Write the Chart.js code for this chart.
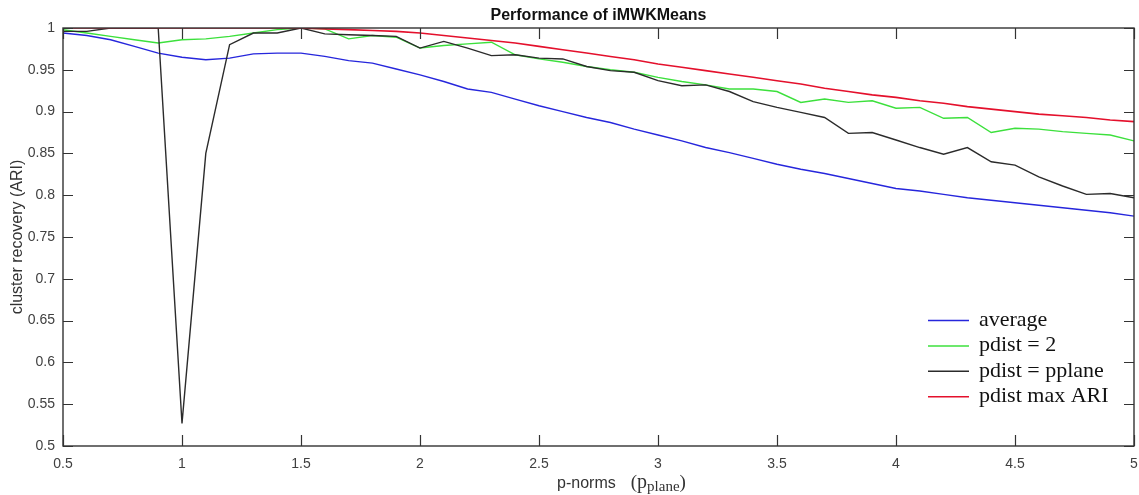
<!DOCTYPE html>
<html>
<head>
<meta charset="utf-8">
<script src="https://cdn.jsdelivr.net/npm/chart.js@4/dist/chart.umd.min.js"></script>
<style>
  html, body { margin: 0; padding: 0; background: #fff; }
  #wrap { width: 1139px; height: 495px; }
</style>
</head>
<body>
<div id="wrap"><canvas id="perfChart"></canvas></div>
<script>
// p-norm values along the x axis
const pNorms = [0.5, 0.6, 0.7, 0.8, 0.9, 1.0, 1.1, 1.2, 1.3, 1.4,
                1.5, 1.6, 1.7, 1.8, 1.9, 2.0, 2.1, 2.2, 2.3, 2.4,
                2.5, 2.6, 2.7, 2.8, 2.9, 3.0, 3.1, 3.2, 3.3, 3.4,
                3.5, 3.6, 3.7, 3.8, 3.9, 4.0, 4.1, 4.2, 4.3, 4.4,
                4.5, 4.6, 4.7, 4.8, 4.9, 5.0];

const average = [0.994, 0.991, 0.986, 0.978, 0.970, 0.965, 0.962, 0.964, 0.969, 0.970,
                 0.970, 0.966, 0.961, 0.958, 0.951, 0.944, 0.936, 0.927, 0.923, 0.915,
                 0.907, 0.900, 0.893, 0.887, 0.879, 0.872, 0.865, 0.857, 0.851, 0.844,
                 0.837, 0.831, 0.826, 0.820, 0.814, 0.808, 0.805, 0.801, 0.797, 0.794,
                 0.791, 0.788, 0.785, 0.782, 0.779, 0.775];

const pdist2 = [0.998, 0.994, 0.990, 0.986, 0.982, 0.986, 0.987, 0.990, 0.994, 0.998,
                1.000, 0.999, 0.987, 0.991, 0.989, 0.976, 0.979, 0.981, 0.983, 0.968,
                0.963, 0.959, 0.954, 0.950, 0.947, 0.941, 0.936, 0.932, 0.927, 0.927,
                0.924, 0.911, 0.915, 0.911, 0.913, 0.904, 0.905, 0.892, 0.893, 0.875,
                0.880, 0.879, 0.876, 0.874, 0.872, 0.865];

const pdistPlane = [0.996, 0.996, 1.000, 1.000, 1.000, 0.527, 0.850, 0.980, 0.994, 0.994,
                    1.000, 0.993, 0.992, 0.991, 0.990, 0.976, 0.984, 0.976, 0.967, 0.968,
                    0.964, 0.963, 0.954, 0.949, 0.947, 0.937, 0.931, 0.932, 0.924, 0.912,
                    0.905, 0.899, 0.893, 0.874, 0.875, 0.866, 0.857, 0.849, 0.857, 0.840,
                    0.836, 0.822, 0.811, 0.801, 0.802, 0.797];

const pdistMax = [1.000, 1.000, 1.000, 1.000, 1.000, 1.000, 1.000, 1.000, 1.000, 1.000,
                  1.000, 0.999, 0.998, 0.997, 0.996, 0.994, 0.991, 0.988, 0.985, 0.982,
                  0.978, 0.974, 0.970, 0.966, 0.962, 0.957, 0.953, 0.949, 0.945, 0.941,
                  0.937, 0.933, 0.928, 0.924, 0.920, 0.917, 0.913, 0.910, 0.906, 0.903,
                  0.900, 0.897, 0.895, 0.893, 0.890, 0.888];

// tick labels
const xTicks = [0.5, 1, 1.5, 2, 2.5, 3, 3.5, 4, 4.5, 5];
const yTicks = [0.5, 0.55, 0.6, 0.65, 0.7, 0.75, 0.8, 0.85, 0.9, 0.95, 1];

const SANS = "'Liberation Sans', Arial, sans-serif";
const SERIF = "'Liberation Serif', 'Times New Roman', serif";

function toPoints(values) {
    return pNorms.map(function (p, i) { return { x: p, y: values[i] }; });
}

// MATLAB-like frame: box, inward ticks on every side, title, legend, x label
const matlabFrame = {
    id: 'matlabFrame',
    afterDatasetsDraw: function (chart) {
        const ctx = chart.ctx;
        const area = chart.chartArea;
        const xs = chart.scales.x, ys = chart.scales.y;
        ctx.save();
        ctx.strokeStyle = '#333';
        ctx.lineWidth = 1.4;
        ctx.strokeRect(area.left, area.top, area.right - area.left, area.bottom - area.top);
        ctx.lineWidth = 1.2;
        ctx.beginPath();
        xTicks.forEach(function (v) {
            const px = Math.round(xs.getPixelForValue(v)) + 0.5;
            ctx.moveTo(px, area.bottom); ctx.lineTo(px, area.bottom - 11);
            ctx.moveTo(px, area.top); ctx.lineTo(px, area.top + 11);
        });
        yTicks.forEach(function (v) {
            const py = Math.round(ys.getPixelForValue(v)) + 0.5;
            ctx.moveTo(area.left, py); ctx.lineTo(area.left + 10, py);
            ctx.moveTo(area.right, py); ctx.lineTo(area.right - 10, py);
        });
        ctx.stroke();
        ctx.restore();
    },
    afterDraw: function (chart) {
        const ctx = chart.ctx;
        const area = chart.chartArea;
        const cx = (area.left + area.right) / 2;
        ctx.save();

        // title
        ctx.fillStyle = '#111';
        ctx.font = 'bold 16px ' + SANS;
        ctx.textAlign = 'center';
        ctx.textBaseline = 'alphabetic';
        ctx.fillText('Performance of iMWKMeans', cx, 20);

        // x axis label with subscript
        const base = area.bottom + 42;
        ctx.textAlign = 'left';
        ctx.fillStyle = '#333';
        const parts = [
            { t: 'p-norms', f: '16px ' + SANS, dy: 0, gap: 15 },
            { t: '(', f: '19px ' + SERIF, dy: 0, gap: 0 },
            { t: 'p', f: '20px ' + SERIF, dy: 0, gap: 0 },
            { t: 'plane', f: '15px ' + SERIF, dy: 3, gap: 0 },
            { t: ')', f: '19px ' + SERIF, dy: 0, gap: 0 }
        ];
        let total = 0;
        parts.forEach(function (p) { ctx.font = p.f; p.w = ctx.measureText(p.t).width; total += p.w + p.gap; });
        let x = cx + 23 - total / 2;
        parts.forEach(function (p) {
            ctx.font = p.f;
            ctx.fillText(p.t, x, base + p.dy);
            x += p.w + p.gap;
        });

        // legend inside the axes, bottom right
        const items = chart.data.datasets.map(function (d) { return { label: d.label, color: d.borderColor }; });
        ctx.font = '22px ' + SERIF;
        ctx.textBaseline = 'middle';
        items.forEach(function (it, i) {
            const y = area.bottom - 126 + i * 25.4;
            ctx.strokeStyle = it.color;
            ctx.lineWidth = 1.5;
            ctx.beginPath();
            ctx.moveTo(area.right - 206, y + 0.5);
            ctx.lineTo(area.right - 165, y + 0.5);
            ctx.stroke();
            ctx.fillStyle = '#111';
            ctx.fillText(it.label, area.right - 155, y);
        });
        ctx.restore();
    }
};

const ctx = document.getElementById('perfChart').getContext('2d');
new Chart(ctx, {
    type: 'line',
    data: {
        datasets: [
            { label: 'average', data: toPoints(average), borderColor: '#2626dc', borderWidth: 1.4, order: 4 },
            { label: 'pdist = 2', data: toPoints(pdist2), borderColor: '#3ce03c', borderWidth: 1.4, order: 3 },
            { label: 'pdist = pplane', data: toPoints(pdistPlane), borderColor: '#2b2b2b', borderWidth: 1.4, order: 2 },
            { label: 'pdist max ARI', data: toPoints(pdistMax), borderColor: '#e4102c', borderWidth: 1.6, order: 1 }
        ]
    },
    options: {
        responsive: true,
        maintainAspectRatio: false,
        animation: false,
        layout: { padding: { top: 28, right: 5, left: 0, bottom: 0 } },
        elements: {
            point: { radius: 0 },
            line: { tension: 0, fill: false }
        },
        plugins: {
            legend: { display: false },
            title: { display: false },
            tooltip: { enabled: false }
        },
        scales: {
            x: {
                type: 'linear',
                min: 0.5,
                max: 5,
                afterBuildTicks: function (s) { s.ticks = xTicks.map(function (v) { return { value: v }; }); },
                afterFit: function (s) { s.height = 49; s.paddingLeft = 0; s.paddingRight = 0; },
                grid: { display: false, drawTicks: false },
                border: { display: false },
                ticks: {
                    padding: 10,
                    maxRotation: 0,
                    autoSkip: false,
                    color: '#404040',
                    font: { family: SANS, size: 14 },
                    callback: function (v) { return String(Number(v.toFixed(2))); }
                }
            },
            y: {
                type: 'linear',
                min: 0.5,
                max: 1,
                afterBuildTicks: function (s) { s.ticks = yTicks.map(function (v) { return { value: v }; }); },
                afterFit: function (s) { s.width = 63; s.paddingTop = 0; s.paddingBottom = 0; },
                grid: { display: false, drawTicks: false },
                border: { display: false },
                ticks: {
                    padding: 8,
                    autoSkip: false,
                    color: '#404040',
                    font: { family: SANS, size: 14 },
                    callback: function (v) { return String(Number(v.toFixed(2))); }
                },
                title: {
                    display: true,
                    text: 'cluster recovery (ARI)',
                    color: '#333',
                    font: { family: SANS, size: 16 },
                    padding: { top: 8, bottom: 0 }
                }
            }
        }
    },
    plugins: [matlabFrame]
});
</script>
</body>
</html>
